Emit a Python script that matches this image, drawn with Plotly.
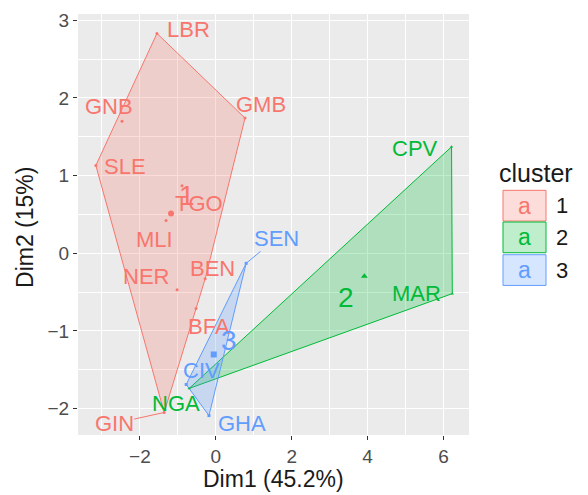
import numpy as np
import plotly.graph_objects as go

# ---- data ----
countries = ["LBR", "GMB", "GNB", "SLE", "TGO", "MLI", "NER", "BEN", "BFA", "GIN",
             "SEN", "CIV", "GHA", "NGA", "CPV", "MAR"]
dim1 = [-1.55, 0.77, -2.47, -3.16, -0.89, -1.31, -1.02, -0.28, -0.52, -1.36,
        0.80, -0.78, -0.18, -0.70, 6.21, 6.23]
dim2 = [2.83, 1.74, 1.70, 1.13, 0.87, 0.42, -0.47, -0.33, -0.71, -2.05,
        -0.13, -1.69, -2.09, -1.74, 1.37, -0.52]
cluster = [1, 1, 1, 1, 1, 1, 1, 1, 1, 1, 3, 3, 3, 2, 2, 2]
cluster_ids = [1, 2, 3]
x_ticks = [-2, 0, 2, 4, 6]
y_ticks = [-2, -1, 0, 1, 2, 3]

# ---- styles ----
colors = {1: "#F8766D", 2: "#00BA38", 3: "#619CFF"}
fills = {1: "rgba(248,118,109,0.25)", 2: "rgba(0,186,56,0.25)", 3: "rgba(97,156,255,0.25)"}
symbols = {1: "circle", 2: "triangle-up", 3: "square"}
# label offsets in pixels (repelled labels), and whether a segment is drawn
label_dx = [32, 16, -13, 29, 17, -12, -31, 7, 13, -50, 30, 15, 33, -13, -37, -36]
label_dy = [-4, -14, -15, 1, 18, 19, -13, -10, 18, 11, -25, -14, 8, 15, 2, 0]
label_seg = [0, 0, 0, 0, 0, 0, 0, 0, 0, 1, 1, 0, 0, 0, 0, 0]
center_dx = {1: 16, 2: -18, 3: 15}
center_dy = {1: -18, 2: 21, 3: -14}
FONT = "Liberation Sans, Arial, sans-serif"

W, H = 588, 495
ML, MR, MT, MB = 78, 119, 10, 60


def hull(pts):
    pts = sorted(set(pts))
    if len(pts) < 3:
        return pts
    def cross(o, a, b):
        return (a[0]-o[0])*(b[1]-o[1]) - (a[1]-o[1])*(b[0]-o[0])
    lower, upper = [], []
    for p in pts:
        while len(lower) >= 2 and cross(lower[-2], lower[-1], p) <= 0:
            lower.pop()
        lower.append(p)
    for p in reversed(pts):
        while len(upper) >= 2 and cross(upper[-2], upper[-1], p) <= 0:
            upper.pop()
        upper.append(p)
    return lower[:-1] + upper[:-1]


x = np.array(dim1)
y = np.array(dim2)
cl = np.array(cluster)

fig = go.Figure()

# hulls
for c in cluster_ids:
    m = cl == c
    h = hull(list(zip(x[m], y[m])))
    hx = [p[0] for p in h] + [h[0][0]]
    hy = [p[1] for p in h] + [h[0][1]]
    fig.add_trace(go.Scatter(x=hx, y=hy, mode="lines", fill="toself",
                             fillcolor=fills[c], line=dict(color=colors[c], width=1),
                             showlegend=False, hoverinfo="skip"))

# points and centers
centers = {}
for c in cluster_ids:
    m = cl == c
    fig.add_trace(go.Scatter(x=x[m], y=y[m], mode="markers",
                             marker=dict(color=colors[c], size=3, symbol=symbols[c]),
                             showlegend=False))
    cx, cy = x[m].mean(), y[m].mean()
    centers[c] = (cx, cy)
    fig.add_trace(go.Scatter(x=[cx], y=[cy], mode="markers",
                             marker=dict(color=colors[c], size=6, symbol=symbols[c]),
                             showlegend=False))

annotations = []
for i, name in enumerate(countries):
    c = cluster[i]
    annotations.append(dict(
        x=dim1[i], y=dim2[i], xref="x", yref="y", text=name,
        showarrow=True, arrowhead=0, arrowwidth=1,
        arrowcolor=colors[c] if label_seg[i] else "rgba(0,0,0,0)",
        ax=label_dx[i], ay=label_dy[i],
        font=dict(family=FONT, size=22, color=colors[c]),
        borderpad=0))
for c in cluster_ids:
    annotations.append(dict(
        x=centers[c][0], y=centers[c][1], xref="x", yref="y", text=str(c),
        showarrow=False, xshift=center_dx[c], yshift=-center_dy[c],
        xanchor="center", yanchor="middle",
        font=dict(family=FONT, size=28, color=colors[c])))

# axis titles
pw = W - ML - MR
ph = H - MT - MB
def px2paper_x(px):
    return (px - ML) / pw
def py2paper_y(py):
    return (H - MB - py) / ph

annotations.append(dict(x=0.5, y=py2paper_y(479), xref="paper", yref="paper",
                        xanchor="center", yanchor="middle",
                        text="Dim1 (45.2%)", showarrow=False,
                        font=dict(family=FONT, size=23, color="#1A1A1A")))
annotations.append(dict(x=px2paper_x(25), y=py2paper_y(226), xref="paper", yref="paper",
                        xanchor="center", yanchor="middle",
                        text="Dim2 (15%)", showarrow=False, textangle=-90,
                        font=dict(family=FONT, size=23, color="#1A1A1A")))

# manual legend
shapes = []
annotations.append(dict(x=px2paper_x(497), y=py2paper_y(171), xref="paper", yref="paper",
                        xanchor="left", yanchor="middle", text="cluster", showarrow=False,
                        font=dict(family=FONT, size=25, color="#1A1A1A")))
key_top = [188, 220, 253]
for k, c in enumerate(cluster_ids):
    y0, y1 = key_top[k], key_top[k] + 31
    shapes.append(dict(type="rect", xref="paper", yref="paper",
                       x0=px2paper_x(503), x1=px2paper_x(546),
                       y0=py2paper_y(y1), y1=py2paper_y(y0),
                       fillcolor=fills[c], line=dict(color=colors[c], width=1)))
    annotations.append(dict(x=px2paper_x(524.5), y=py2paper_y((y0 + y1) / 2),
                            xref="paper", yref="paper", text="a", showarrow=False,
                            xanchor="center", yanchor="middle",
                            font=dict(family=FONT, size=23, color=colors[c])))
    annotations.append(dict(x=px2paper_x(554), y=py2paper_y((y0 + y1) / 2),
                            xref="paper", yref="paper", xanchor="left", yanchor="middle",
                            text=str(c), showarrow=False,
                            font=dict(family=FONT, size=22, color="#1A1A1A")))

axis_common = dict(showgrid=True, gridcolor="white", gridwidth=1.2, zeroline=False,
                   ticks="outside", ticklen=4, tickcolor="#333333", tickwidth=1,
                   tickfont=dict(family=FONT, size=19, color="#4D4D4D"),
                   showline=False)
fig.update_layout(
    width=W, height=H,
    margin=dict(l=ML, r=MR, t=MT, b=MB),
    paper_bgcolor="white", plot_bgcolor="#EBEBEB",
    showlegend=False,
    xaxis=dict(range=[-3.63, 6.67], tickvals=x_ticks,
               minor=dict(tickvals=[-3, -1, 1, 3, 5], showgrid=True,
                          gridcolor="white", gridwidth=0.6, ticks=""),
               **axis_common),
    yaxis=dict(range=[-2.34, 3.08], tickvals=y_ticks,
               minor=dict(tickvals=[-1.5, -0.5, 0.5, 1.5, 2.5], showgrid=True,
                          gridcolor="white", gridwidth=0.6, ticks=""),
               **axis_common),
    annotations=annotations, shapes=shapes,
)

fig.write_html("out.html")
